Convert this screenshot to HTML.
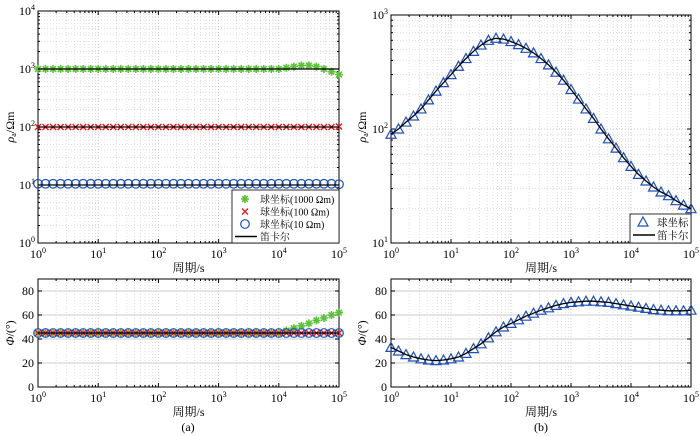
<!DOCTYPE html>
<html><head><meta charset="utf-8"><style>
body{margin:0;background:#fff;}
svg{display:block;font-family:"Liberation Serif","Noto Serif CJK SC","Noto Sans CJK SC",serif;}
</style></head><body>
<svg id="c" width="700" height="436" viewBox="0 0 700 436" xmlns="http://www.w3.org/2000/svg"></svg>
<script>
const logPeriods=[0,0.125,0.25,0.375,0.5,0.625,0.75,0.875,1,1.125,1.25,1.375,1.5,1.625,1.75,1.875,2,2.125,2.25,2.375,2.5,2.625,2.75,2.875,3,3.125,3.25,3.375,3.5,3.625,3.75,3.875,4,4.125,4.25,4.375,4.5,4.625,4.75,4.875,5];
const rho1000=[1000,1000,1000,1000,1000,1000,1000,1000,1000,1000,1000,1000,1000,1000,1000,1000,1000,1000,1000,1000,1000,1000,1000,1000,1000,1000,1000,1000,1000,1000,1000,1000,1000,1050,1100,1150,1150,1100,1000,900,800];
const rho100=[100,100,100,100,100,100,100,100,100,100,100,100,100,100,100,100,100,100,100,100,100,100,100,100,100,100,100,100,100,100,100,100,100,100,100,100,100,100,100,100,102];
const rho10=[10.5,10.5,10.5,10.5,10.5,10.5,10.5,10.5,10.5,10.5,10.5,10.5,10.5,10.5,10.5,10.5,10.5,10.5,10.5,10.5,10.5,10.5,10.5,10.5,10.5,10.5,10.5,10.5,10.5,10.5,10.5,10.5,10.5,10.5,10.5,10.5,10.5,10.5,10.5,10.5,10.3];
const rhoCart=[1000,100,10];
const phi1000=[45,45,45,45,45,45,45,45,45,45,45,45,45,45,45,45,45,45,45,45,45,45,45,45,45,45,45,45,45,45,45,45,45,47,49,51,53,55.5,57.5,60,62];
const phiHalf=45;
const rhoLayer=[90,100,115,130,150,180,215,255,300,355,415,480,545,600,625,615,585,550,510,465,415,365,315,268,222,183,150,124,100,82,68,56,47,40,35,31,28,26,23.5,21.5,20];
const phiLayer=[33,30,27,25,23.5,22.5,22,22.5,23.5,25,28,32,36,41,46,50,53,56,59,61.5,64,66,68,69.5,70.5,71,71.5,71.5,71,70.5,69.5,68.5,67.5,66.5,65.5,64.5,64,63.5,63.5,63.5,64];
const xTickExp=[0,1,2,3,4,5];
const phiTicks=[0,20,40,60,80];

const NS="http://www.w3.org/2000/svg";
const svg=document.getElementById('c');
function el(tag,attrs,parent){const e=document.createElementNS(NS,tag);for(const k in attrs)e.setAttribute(k,attrs[k]);(parent||svg).appendChild(e);return e;}

function makeAxes(name,x0,x1,y0,y1,ymin,ymax,ylog){
  const g=el('g',{});
  
  
  const sx=v=>x0+(v-0)/(5)*(x1-x0);
  const sy=ylog?(v=>y1-(Math.log10(v)-ymin)/(ymax-ymin)*(y1-y0)):(v=>y1-(v-ymin)/(ymax-ymin)*(y1-y0));
  for(let d=0;d<5;d++){for(let m=2;m<10;m++){const x=sx(d+Math.log10(m));el('line',{x1:x,x2:x,y1:y0,y2:y1,stroke:'#ccc','stroke-width':0.6,'stroke-dasharray':'1 2'},g);}}
  for(let d=1;d<5;d++){const x=sx(d);el('line',{x1:x,x2:x,y1:y0,y2:y1,stroke:'#bbb','stroke-width':0.8,'stroke-dasharray':'1 2'},g);}
  if(ylog){for(let d=ymin;d<ymax;d++){for(let m=2;m<10;m++){const y=sy(Math.pow(10,d)*m);el('line',{x1:x0,x2:x1,y1:y,y2:y,stroke:'#ccc','stroke-width':0.6,'stroke-dasharray':'1 2'},g);}if(d>ymin){const y=sy(Math.pow(10,d));el('line',{x1:x0,x2:x1,y1:y,y2:y,stroke:'#bbb','stroke-width':0.8,'stroke-dasharray':'1 2'},g);}}}
  else{for(const t of phiTicks){if(t===0)continue;const y=sy(t);el('line',{x1:x0,x2:x1,y1:y,y2:y,stroke:'#ddd','stroke-width':1.5},g);}}
  el('rect',{x:x0,y:y0,width:x1-x0,height:y1-y0,fill:'none',stroke:'#000','stroke-width':1},g);
  for(const e of xTickExp){const x=sx(e);el('line',{x1:x,x2:x,y1:y1,y2:y1-4,stroke:'#000'},g);el('line',{x1:x,x2:x,y1:y0,y2:y0+4,stroke:'#000'},g);
    const t=el('text',{x:x,y:y1+15,'font-size':12,'text-anchor':'middle'},g);t.textContent='10';const s=el('tspan',{dy:-5,'font-size':8},t);s.textContent=e;}
  for(let d=0;d<5;d++)for(let m=2;m<10;m++){const x=sx(d+Math.log10(m));el('line',{x1:x,x2:x,y1:y1,y2:y1-2,stroke:'#000'},g);el('line',{x1:x,x2:x,y1:y0,y2:y0+2,stroke:'#000'},g);}
  if(ylog){for(let d=ymin;d<=ymax;d++){const y=sy(Math.pow(10,d));el('line',{x1:x0,x2:x0+4,y1:y,y2:y,stroke:'#000'},g);el('line',{x1:x1,x2:x1-4,y1:y,y2:y,stroke:'#000'},g);
    const t=el('text',{x:x0-3,y:y+4,'font-size':12,'text-anchor':'end'},g);t.textContent='10';const s=el('tspan',{dy:-5,'font-size':8},t);s.textContent=d;
    if(d<ymax)for(let m=2;m<10;m++){const yy=sy(Math.pow(10,d)*m);el('line',{x1:x0,x2:x0+2,y1:yy,y2:yy,stroke:'#000'},g);el('line',{x1:x1,x2:x1-2,y1:yy,y2:yy,stroke:'#000'},g);}}}
  else{for(const v of phiTicks){const y=sy(v);el('line',{x1:x0,x2:x0+4,y1:y,y2:y,stroke:'#000'},g);el('line',{x1:x1,x2:x1-4,y1:y,y2:y,stroke:'#000'},g);const t=el('text',{x:x0-4,y:y+4,'font-size':12,'text-anchor':'end'},g);t.textContent=v;}}
  const xl=el('text',{x:(x0+x1)/2,y:y1+29,'font-size':12,'text-anchor':'middle'},g);xl.textContent='周期/s';
  
  
  return {g,sx,sy};
}
function line(ax,xs,ys,color,w){let d='';xs.forEach((x,i)=>{d+=(i?'L':'M')+ax.sx(x).toFixed(1)+' '+ax.sy(ys[i]).toFixed(1);});return el('path',{d,fill:'none',stroke:color,'stroke-width':w},ax.g);}
function marker(parent,type,x,y){
  if(type==='o')return el('circle',{cx:x,cy:y,r:4.3,fill:'none',stroke:'#1f4fb5','stroke-width':1.2},parent);
  if(type==='x'){return el('path',{d:`M${x-3} ${y-3}L${x+3} ${y+3}M${x-3} ${y+3}L${x+3} ${y-3}`,stroke:'#e8191b','stroke-width':1.4},parent);}
  if(type==='*'){let d='';for(let a=0;a<4;a++){const t=a*Math.PI/4;d+=`M${x-4*Math.cos(t)} ${y-4*Math.sin(t)}L${x+4*Math.cos(t)} ${y+4*Math.sin(t)}`;}return el('path',{d,stroke:'#5cc13a','stroke-width':1.6},parent);}
  if(type==='^')return el('path',{d:`M${x} ${y-5}L${x+5} ${y+4}L${x-5} ${y+4}Z`,fill:'none',stroke:'#1f4fb5','stroke-width':1.2},parent);
}
function series(ax,name,type,xs,ys){const g=el('g',{},ax.g);xs.forEach((x,i)=>marker(g,type,ax.sx(x),ax.sy(ys[i])));}

const a1=makeAxes('rho-plot-a',38,339,11,243,0,4,true);
series(a1,'rho-sphere-1000','*',logPeriods,rho1000);
series(a1,'rho-sphere-100','x',logPeriods,rho100);
series(a1,'rho-sphere-10','o',logPeriods,rho10);
rhoCart.forEach(v=>{const p=line(a1,[0,5],[v,v],'#000',1.3);});
let yt=el('text',{x:0,y:0,'font-size':12,'text-anchor':'middle',transform:'translate(14,127) rotate(-90)'});yt.innerHTML='<tspan font-style="italic">ρ</tspan><tspan font-size="8" dy="2">a</tspan><tspan dy="-2">/Ωm</tspan>';

const lg=el('g',{});
el('rect',{x:232,y:190,width:107,height:53,fill:'#fff',stroke:'#000','stroke-width':0.8},lg);
const leg=[['*','球坐标(1000 Ωm)'],['x','球坐标(100 Ωm)'],['o','球坐标(10 Ωm)'],['-','笛卡尔']];
leg.forEach((l,i)=>{const y=199+i*12.5;if(l[0]==='-')el('line',{x1:235,x2:257,y1:y,y2:y,stroke:'#000','stroke-width':1.5},lg);else marker(lg,l[0],245,y);const t=el('text',{x:260,y:y+4,'font-size':10},lg);t.textContent=l[1];});
const a2=makeAxes('phase-plot-a',38,339,279,387,0,90,false);
series(a2,'phase-sphere-1000','*',logPeriods,phi1000);
series(a2,'phase-sphere-100','x',logPeriods,logPeriods.map(()=>phiHalf));
series(a2,'phase-sphere-10','o',logPeriods,logPeriods.map(()=>phiHalf));
line(a2,[0,5],[phiHalf,phiHalf],'#000',1.3);
let pt=el('text',{x:0,y:0,'font-size':12,'text-anchor':'middle',transform:'translate(14,333) rotate(-90)'});pt.innerHTML='<tspan font-style="italic">Φ</tspan>/(°)';

const b1=makeAxes('rho-plot-b',391,691,15,243,1,3,true);
series(b1,'rho-sphere-layered','^',logPeriods,rhoLayer);
line(b1,logPeriods,rhoLayer,'#000',1.3);
let yt2=el('text',{x:0,y:0,'font-size':12,'text-anchor':'middle',transform:'translate(366,127) rotate(-90)'});yt2.innerHTML='<tspan font-style="italic">ρ</tspan><tspan font-size="8" dy="2">a</tspan><tspan dy="-2">/Ωm</tspan>';

const lg2=el('g',{});
el('rect',{x:630,y:214,width:61,height:29,fill:'#fff',stroke:'#000','stroke-width':0.8},lg2);
marker(lg2,'^',643,222);let t1=el('text',{x:657,y:226,'font-size':10.5},lg2);t1.textContent='球坐标';
el('line',{x1:633,x2:655,y1:235,y2:235,stroke:'#000','stroke-width':1.5},lg2);let t2=el('text',{x:657,y:239,'font-size':10.5},lg2);t2.textContent='笛卡尔';
const b2=makeAxes('phase-plot-b',391,691,279,387,0,90,false);
series(b2,'phase-sphere-layered','^',logPeriods,phiLayer);
line(b2,logPeriods,phiLayer,'#000',1.3);
let pt2=el('text',{x:0,y:0,'font-size':12,'text-anchor':'middle',transform:'translate(366,333) rotate(-90)'});pt2.innerHTML='<tspan font-style="italic">Φ</tspan>/(°)';

let ca=el('text',{x:188,y:431,'font-size':12,'text-anchor':'middle'});ca.textContent='(a)';
let cb=el('text',{x:541,y:431,'font-size':12,'text-anchor':'middle'});cb.textContent='(b)';
</script>
</body></html>
